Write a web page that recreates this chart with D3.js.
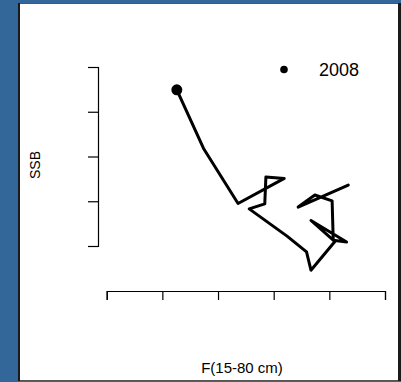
<!DOCTYPE html>
<html>
<head>
<meta charset="utf-8">
<script src="https://cdn.jsdelivr.net/npm/d3@7"></script>
<style>
  html, body { margin: 0; padding: 0; background: #336699; }
  svg { display: block; }
  text { font-family: "Liberation Sans", Arial, sans-serif; fill: #000; }
</style>
</head>
<body>
<svg id="chart" width="401" height="382"></svg>
<script>
// Stock trajectory: fishing mortality F(15-80 cm) against spawning stock biomass
const years = [1991, 1992, 1993, 1994, 1995, 1996, 1997, 1998, 1999,
               2000, 2001, 2002, 2003, 2004, 2005, 2006, 2007, 2008];
const fValues = [0.634, 0.544, 0.574, 0.605, 0.607, 0.631, 0.567, 0.610, 0.567,
                 0.559, 0.524, 0.456, 0.484, 0.486, 0.519, 0.436, 0.374, 0.326];
const ssbValues = [33.6, 28.7, 31.4, 30.1, 21.3, 20.9, 25.7, 21.0, 14.6,
                   18.7, 22.2, 28.3, 29.4, 35.4, 35.1, 29.5, 41.8, 54.9];
const fTicks = [0.2, 0.3, 0.4, 0.5, 0.6, 0.7];
const ssbTicks = [20, 30, 40, 50, 60];
const markYear = 2008;

const svg = d3.select("#chart");

// framed white panel on the blue page
svg.append("rect").attr("x", 18).attr("y", 3).attr("width", 383).attr("height", 378).attr("fill", "#1a1a1a");
svg.append("rect").attr("x", 20).attr("y", 3).attr("width", 378).attr("height", 378).attr("fill", "#555");
svg.append("rect").attr("x", 20).attr("y", 4).attr("width", 378).attr("height", 376).attr("fill", "#fff");

const x = d3.scaleLinear().domain([0.2, 0.7]).range([106.7, 385]);
const y = d3.scaleLinear().domain([20, 60]).range([246, 67]);

const xAxis = d3.axisBottom(x).tickValues(fTicks).tickSize(9).tickSizeOuter(9).tickFormat("");
const yAxis = d3.axisLeft(y).tickValues(ssbTicks).tickSize(10).tickSizeOuter(10).tickFormat("");

svg.append("g").attr("transform", "translate(0,291)").call(xAxis)
  .call(g => g.selectAll("path, line").attr("stroke", "#000").attr("stroke-width", 1.2));
svg.append("g").attr("transform", "translate(98,0)").call(yAxis)
  .call(g => g.selectAll("path, line").attr("stroke", "#000").attr("stroke-width", 1.2));

// axis titles
svg.append("text").attr("x", 242).attr("y", 373).attr("text-anchor", "middle")
  .style("font-size", "15px").text("F(15-80 cm)");
svg.append("text").attr("transform", "translate(39.5,165) rotate(-90)")
  .attr("text-anchor", "middle").style("font-size", "14px").text("SSB");

// trajectory
const pts = years.map((yr, i) => ({ year: yr, f: fValues[i], ssb: ssbValues[i] }));
const line = d3.line().x(d => x(d.f)).y(d => y(d.ssb));
svg.append("path").datum(pts).attr("d", line)
  .attr("fill", "none").attr("stroke", "#000").attr("stroke-width", 3)
  .attr("stroke-linejoin", "round").attr("stroke-linecap", "round");

const last = pts.find(d => d.year === markYear);
svg.append("circle").attr("cx", x(last.f)).attr("cy", y(last.ssb)).attr("r", 5.5).attr("fill", "#000");

// legend
svg.append("circle").attr("cx", 284).attr("cy", 69.5).attr("r", 3.8).attr("fill", "#000");
svg.append("text").attr("x", 319).attr("y", 76).style("font-size", "18px").text(String(markYear));
</script>
</body>
</html>
